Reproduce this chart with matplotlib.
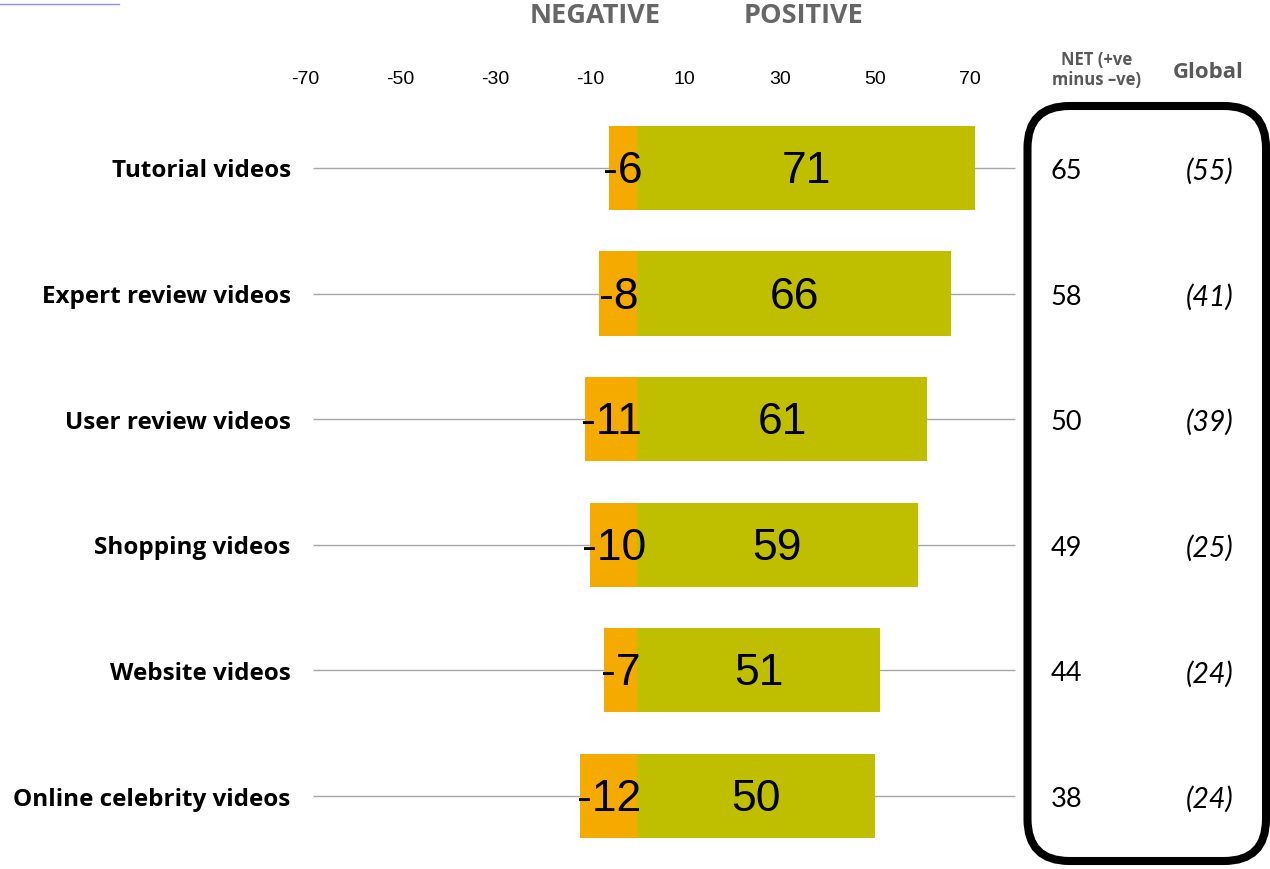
import matplotlib.pyplot as plt
import matplotlib.transforms as mtransforms
from matplotlib.patches import FancyBboxPatch

categories = ["Tutorial videos", "Expert review videos", "User review videos",
              "Shopping videos", "Website videos", "Online celebrity videos"]
negative = [-6, -8, -11, -10, -7, -12]
positive = [71, 66, 61, 59, 51, 50]
net = [65, 58, 50, 49, 44, 38]
global_vals = [55, 41, 39, 25, 24, 24]
tick_vals = [-70, -50, -30, -10, 10, 30, 50, 70]

ORANGE = "#F5AA00"
OLIVE = "#BFBF00"
GREY = "#666666"

fig = plt.figure(figsize=(12.7, 8.7), dpi=100)
ax = fig.add_axes([0, 0, 1, 1 - 100 / 870])
ax.set_xlim(-134.2, 133.2)
ax.set_ylim(5.581, -0.549)

rows = range(len(categories))

# thin guide lines behind each bar
ax.hlines(list(rows), -68.3, 79.5, color="#A6A6A6", lw=1, zorder=1)

ax.barh(list(rows), negative, height=0.67, color=ORANGE, zorder=2)
ax.barh(list(rows), positive, height=0.67, color=OLIVE, zorder=2)

for i in rows:
    ax.text(negative[i] / 2, i + 0.02, f"{negative[i]}", ha="center",
            va="center", fontsize=32, family="Liberation Sans", zorder=3)
    ax.text(positive[i] / 2, i + 0.02, f"{positive[i]}", ha="center",
            va="center", fontsize=32, family="Liberation Sans", zorder=3)
    ax.text(-73, i + 0.02, categories[i], ha="right", va="center",
            fontsize=17.5, fontweight="bold", family="Open Sans")
    ax.text(90.3, i + 0.02, f"{net[i]}", ha="center", va="center",
            fontsize=19.5, family="Lato")
    ax.text(120.5, i + 0.02, f"({global_vals[i]})", ha="center", va="center",
            fontsize=20.5, family="Lato", style="italic")

ax.xaxis.tick_top()
ax.set_xticks(tick_vals)
ax.set_xticklabels([str(v) for v in tick_vals], fontsize=14,
                   family="Liberation Sans")
ax.tick_params(axis="x", length=0, pad=9)
ax.set_yticks([])
for s in ax.spines.values():
    s.set_visible(False)

fig.text(595 / 1270, 1 - 16 / 870, "NEGATIVE", ha="center", va="center",
         fontsize=19.5, fontweight="bold", color=GREY, family="Open Sans")
fig.text(803 / 1270, 1 - 16 / 870, "POSITIVE", ha="center", va="center",
         fontsize=19.5, fontweight="bold", color=GREY, family="Open Sans")
fig.text(1097 / 1270, 1 - 70 / 870, "NET (+ve\nminus \u2013ve)", ha="center",
         va="center", fontsize=12, fontweight="bold", color="#595959",
         family="Open Sans", linespacing=1.2)
fig.text(1208 / 1270, 1 - 73 / 870, "Global", ha="center", va="center",
         fontsize=16, fontweight="bold", color="#595959", family="Open Sans")

# rounded frame around the NET / Global columns (pixel coordinates)
box = FancyBboxPatch((1027.5, 870 - 862), 1266 - 1027.5, 862 - 107,
                     boxstyle="round,pad=0,rounding_size=42",
                     transform=mtransforms.IdentityTransform(),
                     fill=False, ec="black", lw=5.8)
fig.patches.append(box)

fig.add_artist(plt.Line2D([0, 119 / 1270], [1 - 5 / 870, 1 - 5 / 870],
                          color="#8C8CFF", lw=1))

fig.savefig("out.png", dpi=100)
